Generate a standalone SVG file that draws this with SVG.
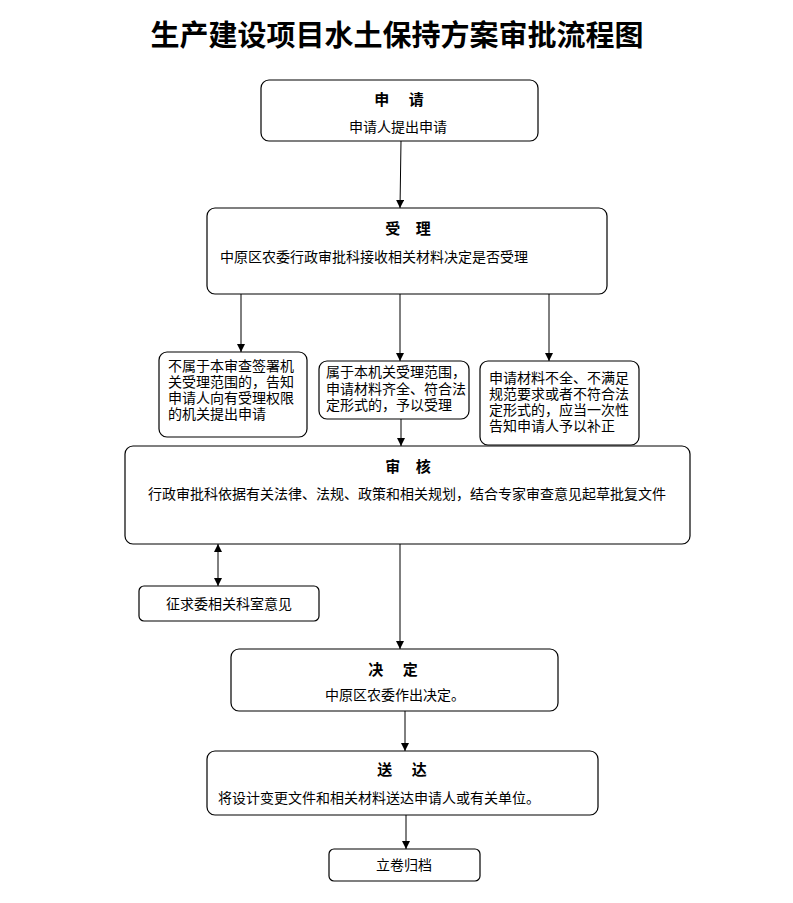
<svg xmlns="http://www.w3.org/2000/svg" width="793" height="903" viewBox="0 0 793 903">
<style>
.box{fill:#fff;stroke:#000;stroke-width:1.2}
.t{font-family:"Noto Sans CJK SC",sans-serif;font-size:14px;fill:#000}
.h{font-family:"Noto Sans CJK SC",sans-serif;font-size:15px;font-weight:bold;fill:#000;text-anchor:middle}
.c{text-anchor:middle}
.ln{stroke:#000;stroke-width:1;fill:none}
</style>
<defs>
<marker id="ah" markerUnits="userSpaceOnUse" markerWidth="8" markerHeight="8" refX="8" refY="4" orient="auto-start-reverse">
<path d="M0,0 L8,4 L0,8 z" fill="#000"/>
</marker>
</defs>
<rect width="793" height="903" fill="#fff"/>
<text x="397" y="46" text-anchor="middle" style="font-family:'Noto Sans CJK SC',sans-serif;font-size:29px;font-weight:bold">生产建设项目水土保持方案审批流程图</text>

<g id="connectors">
<line class="ln" x1="401" y1="141" x2="400" y2="208" marker-end="url(#ah)"/>
<line class="ln" x1="241" y1="294" x2="241" y2="352" marker-end="url(#ah)"/>
<line class="ln" x1="400" y1="294" x2="400" y2="361" marker-end="url(#ah)"/>
<line class="ln" x1="549" y1="294" x2="549" y2="361" marker-end="url(#ah)"/>
<line class="ln" x1="401" y1="419" x2="401" y2="446" marker-end="url(#ah)"/>
<line class="ln" x1="218" y1="544" x2="218" y2="586" marker-start="url(#ah)" marker-end="url(#ah)"/>
<line class="ln" x1="400" y1="544" x2="400" y2="649" marker-end="url(#ah)"/>
<line class="ln" x1="405" y1="711" x2="405" y2="751" marker-end="url(#ah)"/>
<line class="ln" x1="406" y1="815" x2="406" y2="849" marker-end="url(#ah)"/>
</g>

<g id="apply">
<rect class="box" x="261" y="80" width="277" height="61" rx="8"/>
<text class="h" x="403" y="105" letter-spacing="8">申 请</text>
<text class="t c" x="398" y="132">申请人提出申请</text>
</g>

<g id="accept">
<rect class="box" x="207" y="208" width="400" height="86" rx="8"/>
<text class="h" x="411" y="234" letter-spacing="6">受 理</text>
<text class="t" x="220" y="262">中原区农委行政审批科接收相关材料决定是否受理</text>
</g>

<g id="reject">
<rect class="box" x="159" y="352" width="148" height="85" rx="8"/>
<text class="t" x="168" y="371">不属于本审查签署机<tspan x="168" dy="16">关受理范围的，告知</tspan><tspan x="168" dy="16">申请人向有受理权限</tspan><tspan x="168" dy="16">的机关提出申请</tspan></text>
</g>

<g id="accepted">
<rect class="box" x="319" y="361" width="150" height="58" rx="8"/>
<text class="t" x="326" y="377">属于本机关受理范围，<tspan x="326" dy="17">申请材料齐全、符合法</tspan><tspan x="326" dy="16">定形式的，予以受理</tspan></text>
</g>

<g id="supplement">
<rect class="box" x="480" y="361" width="159" height="84" rx="8"/>
<text class="t" x="489" y="383">申请材料不全、不满足<tspan x="489" dy="16">规范要求或者不符合法</tspan><tspan x="489" dy="16">定形式的，应当一次性</tspan><tspan x="489" dy="16">告知申请人予以补正</tspan></text>
</g>

<g id="review">
<rect class="box" x="125" y="446" width="565" height="98" rx="8"/>
<text class="h" x="411" y="472" letter-spacing="6">审 核</text>
<text class="t" x="148" y="499">行政审批科依据有关法律、法规、政策和相关规划，结合专家审查意见起草批复文件</text>
</g>

<g id="consult">
<rect class="box" x="139" y="586" width="180" height="35" rx="5"/>
<text class="t c" x="229" y="609">征求委相关科室意见</text>
</g>

<g id="decide">
<rect class="box" x="231" y="649" width="327" height="62" rx="8"/>
<text class="h" x="397" y="675" letter-spacing="8">决 定</text>
<text class="t" x="325" y="700">中原区农委作出决定。</text>
</g>

<g id="deliver">
<rect class="box" x="207" y="751" width="391" height="64" rx="8"/>
<text class="h" x="406" y="775" letter-spacing="8">送 达</text>
<text class="t" x="218" y="803">将设计变更文件和相关材料送达申请人或有关单位。</text>
</g>

<g id="archive">
<rect class="box" x="329" y="849" width="151" height="32" rx="5"/>
<text class="t c" x="404" y="870">立卷归档</text>
</g>
</svg>
